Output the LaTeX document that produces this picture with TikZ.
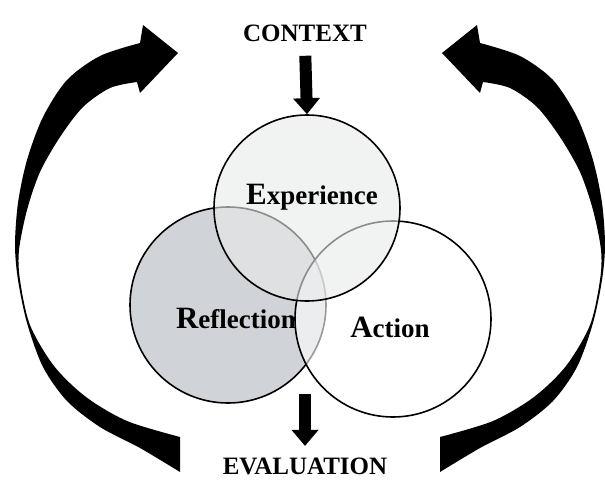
\documentclass[tikz,border=0pt]{standalone}
\usepackage{fontspec}
\setmainfont{Liberation Serif}
\usetikzlibrary{arrows.meta}
\definecolor{reflfill}{RGB}{208,211,216}
\definecolor{expfill}{RGB}{232,234,234}
\newcommand{\bigini}[1]{{\fontsize{31}{31}\selectfont #1}}
\begin{document}
\begin{tikzpicture}[x=1pt,y=-1pt,
ring/.style={
% The shape:
circle,
draw=black,
line width=1.6pt,
inner sep=0pt,
fill opacity=0.6
},
word/.style={font=\fontsize{27}{30}\selectfont\bfseries,anchor=base},
title/.style={font=\fontsize{25}{28}\selectfont\bfseries,anchor=base},
fat arrow/.style={line width=12pt,-{Triangle[width=26pt,length=16pt]}},
sweep/.style={fill=black}
]
\useasboundingbox (0,0) rectangle (605,481);
% Curved arrows, left one and its mirror:
\foreach \o/\s in {0/1,620/-1} {
\begin{scope}[xshift=\o pt,xscale=\s]
\fill[sweep] (180,437) -- (180,472)
 -- plot[smooth] coordinates {(180,472) (140,448) (100,427) (67,401) (43,367) (27,323) (18,280) (15,245) (18,203) (27,160) (43,117) (67,80) (100,56) (140,43)}
 -- (143,25) -- (178,53) -- (140,93) -- (137,82)
 -- plot[smooth] coordinates {(137,82) (110,88) (83,107) (60,137) (40,172) (27,210) (19,250) (20,280) (30,325) (54,366) (86,397) (127,421) (180,437)}
 -- cycle;
\end{scope}
}
\node (ctx) [title] at (305,42) {CONTEXT};
\node (eval) [title] at (305,474) {EVALUATION};
\node (refl) [ring,fill=reflfill,fill opacity=1,minimum size=196pt] at (228,305) {};
\node (refltext) [word] at (236,328) {\bigini{R}eflection};
\node (act) [ring,fill=white,minimum size=196pt] at (393,319) {};
\node (acttext) [word] at (390,337) {\bigini{A}ction};
\node (exp) [ring,fill=expfill,minimum size=186pt] at (307,208) {};
\node (exptext) [word] at (312,205) {\bigini{E}xperience};
\coordinate (meet) at (305,394);
\draw[fat arrow,shorten <=10pt] (ctx.south) -- (exp.north);
\draw[fat arrow,shorten >=8pt] (meet) -- (eval.north);
\end{tikzpicture}
\end{document}
